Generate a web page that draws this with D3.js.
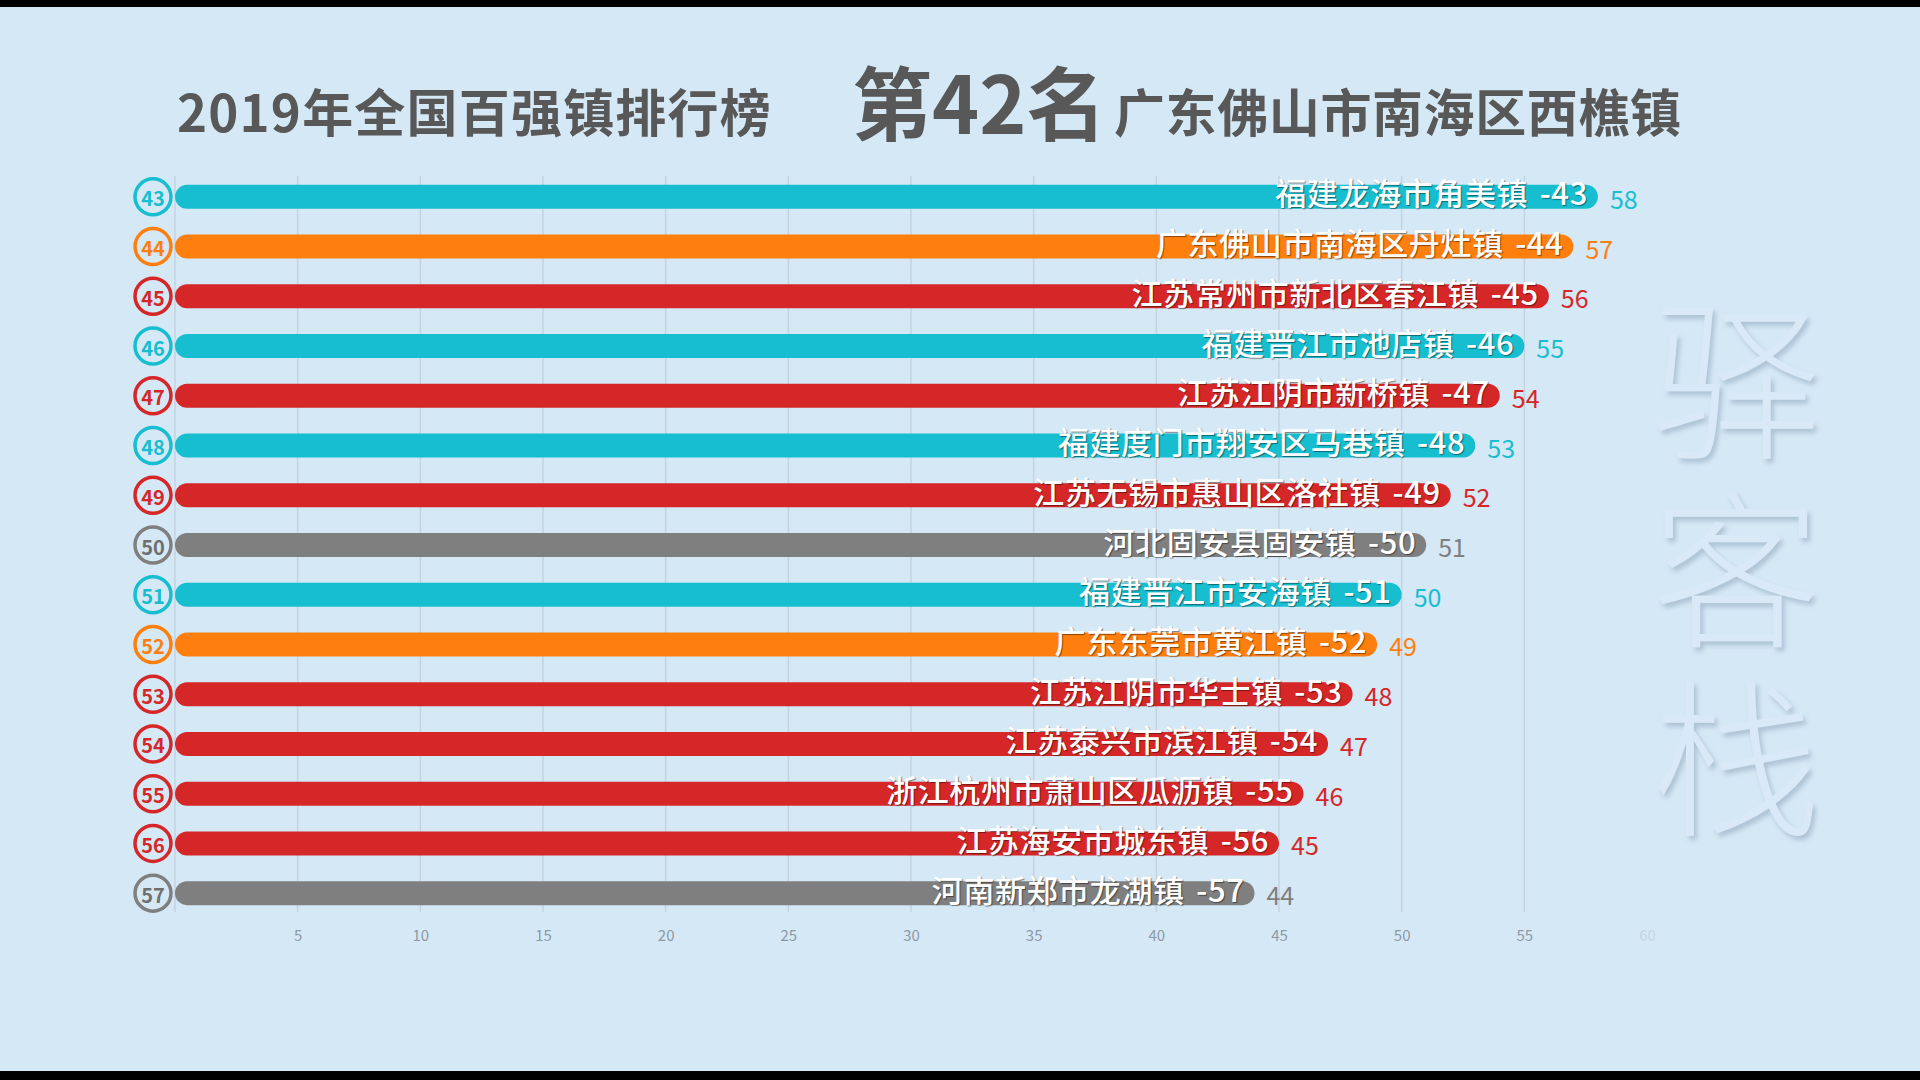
<!DOCTYPE html>
<html>
<head>
<meta charset="utf-8">
<script src="https://cdn.jsdelivr.net/npm/d3@7"></script>
<style>
  html, body { margin: 0; padding: 0; background: #000; }
  svg { display: block; }
  text { font-family: "Noto Sans CJK SC", "Noto Sans", sans-serif; }
</style>
</head>
<body>
<svg id="chart" width="1920" height="1080"></svg>
<script>
// ---- data ----
const ranks = [43, 44, 45, 46, 47, 48, 49, 50, 51, 52, 53, 54, 55, 56, 57];
const names = [
  "福建龙海市角美镇", "广东佛山市南海区丹灶镇", "江苏常州市新北区春江镇", "福建晋江市池店镇",
  "江苏江阴市新桥镇", "福建度门市翔安区马巷镇", "江苏无锡市惠山区洛社镇", "河北固安县固安镇",
  "福建晋江市安海镇", "广东东莞市黄江镇", "江苏江阴市华士镇", "江苏泰兴市滨江镇",
  "浙江杭州市萧山区瓜沥镇", "江苏海安市城东镇", "河南新郑市龙湖镇"
];
const provinces = ["福建", "广东", "江苏", "福建", "江苏", "福建", "江苏", "河北",
  "福建", "广东", "江苏", "江苏", "浙江", "江苏", "河南"];
const values = [58, 57, 56, 55, 54, 53, 52, 51, 50, 49, 48, 47, 46, 45, 44];
const tickValues = [0, 5, 10, 15, 20, 25, 30, 35, 40, 45, 50, 55, 60];
const titleLeft = "2019年全国百强镇排行榜";
const titleRank = "第42名";
const titleTown = "广东佛山市南海区西樵镇";
const watermark = "驿客栈";

const provinceColor = d3.scaleOrdinal()
  .domain(["福建", "广东", "江苏", "浙江", "河北", "河南"])
  .range(["#17becf", "#ff7f0e", "#d62728", "#d62728", "#7f7f7f", "#7f7f7f"]);

const rows = ranks.map((r, i) => ({ rank: r, name: names[i], prov: provinces[i], value: values[i] }));

// ---- layout ----
const svg = d3.select("#chart");
const W = 1920, H = 1080;
const bg = "#d5e8f6";

svg.append("rect").attr("x", 0).attr("y", 0).attr("width", W).attr("height", H).attr("fill", "#000");
svg.append("rect").attr("x", 0).attr("y", 7).attr("width", W).attr("height", 1064).attr("fill", bg);

const defs = svg.append("defs");
const f = defs.append("filter").attr("id", "emboss").attr("x", "-20%").attr("y", "-20%").attr("width", "140%").attr("height", "140%");
f.append("feDropShadow").attr("dx", 3).attr("dy", 4).attr("stdDeviation", 2.5).attr("flood-color", "#a3b9cc").attr("flood-opacity", 0.8);

// watermark (single vertical text)
svg.append("text")
  .attr("x", 1736)
  .attr("y", 296)
  .style("writing-mode", "vertical-rl")
  .attr("font-size", 170)
  .attr("font-weight", 300)
  .attr("letter-spacing", 19)
  .attr("fill", "#d9e9f7")
  .attr("filter", "url(#emboss)")
  .text(watermark);

const x = d3.scaleLinear().domain([0, 60]).range([175, 1647]);
const y = d3.scalePoint().domain(ranks).range([172, 918]).padding(0.5);
const barH = 24;

// gridlines
svg.append("g").selectAll("line").data(tickValues.filter(t => t < 60)).join("line")
  .attr("x1", d => x(d)).attr("x2", d => x(d))
  .attr("y1", 176).attr("y2", 912)
  .attr("stroke", "#c3d3e0").attr("stroke-width", 1.5);

// axis
const axis = d3.axisBottom(x).tickValues(tickValues.filter(t => t > 0)).tickSize(0).tickPadding(0);
const ax = svg.append("g").attr("transform", "translate(0,930)").call(axis);
ax.select(".domain").remove();
ax.selectAll("text")
  .attr("font-family", "Noto Sans, sans-serif")
  .attr("font-size", 15)
  .attr("fill", "#8c9aa6")
  .attr("opacity", d => d === 60 ? 0.25 : 1);

// bars
const g = svg.append("g");
g.selectAll("rect.bar").data(rows).join("rect")
  .attr("class", "bar")
  .attr("x", x(0))
  .attr("y", d => y(d.rank) - barH / 2)
  .attr("width", d => x(d.value) - x(0))
  .attr("height", barH)
  .attr("rx", barH / 2)
  .attr("fill", d => provinceColor(d.prov));

// rank circles
g.selectAll("circle.rk").data(rows).join("circle")
  .attr("class", "rk")
  .attr("cx", 153)
  .attr("cy", d => y(d.rank))
  .attr("r", 18)
  .attr("fill", bg)
  .attr("stroke", d => provinceColor(d.prov))
  .attr("stroke-width", 3.5);

g.selectAll("text.rk").data(rows).join("text")
  .attr("class", "rk")
  .attr("x", 153)
  .attr("y", d => y(d.rank) + 1)
  .attr("text-anchor", "middle")
  .attr("dominant-baseline", "central")
  .attr("font-family", "Open Sans, Noto Sans, sans-serif")
  .attr("font-size", 20)
  .attr("font-weight", 600)
  .attr("fill", d => d.prov === "河北" || d.prov === "河南" ? "#6f6f6f" : provinceColor(d.prov))
  .text(d => d.rank);

// labels inside bars
g.selectAll("text.lab").data(rows).join("text")
  .attr("class", "lab")
  .attr("x", d => x(d.value) - 10)
  .attr("y", d => y(d.rank) - 5)
  .attr("text-anchor", "end")
  .attr("dominant-baseline", "central")
  .attr("font-size", 31)
  .attr("font-weight", 500)
  .attr("letter-spacing", 0.6)
  .attr("word-spacing", 4)
  .attr("fill", "#ffffff")
  .style("text-shadow", "1px 1px 1px rgba(0,0,0,0.45)")
  .text(d => d.name + " -" + d.rank);

// value labels
g.selectAll("text.val").data(rows).join("text")
  .attr("class", "val")
  .attr("x", d => x(d.value) + 12)
  .attr("y", d => y(d.rank) + 1)
  .attr("text-anchor", "start")
  .attr("dominant-baseline", "central")
  .attr("font-family", "Open Sans, Noto Sans, sans-serif")
  .attr("font-size", 25)
  .attr("fill", d => provinceColor(d.prov))
  .text(d => d.value);

// titles
const tg = svg.append("g").attr("fill", "#585858").attr("font-weight", 700);
tg.append("text").attr("x", 177).attr("y", 132).attr("font-size", 51).attr("letter-spacing", 1.2).text(titleLeft);
tg.append("text").attr("x", 852).attr("y", 134).attr("font-size", 80).text(titleRank);
tg.append("text").attr("x", 1114).attr("y", 132).attr("font-size", 51).attr("letter-spacing", 0.6).text(titleTown);
</script>
</body>
</html>
